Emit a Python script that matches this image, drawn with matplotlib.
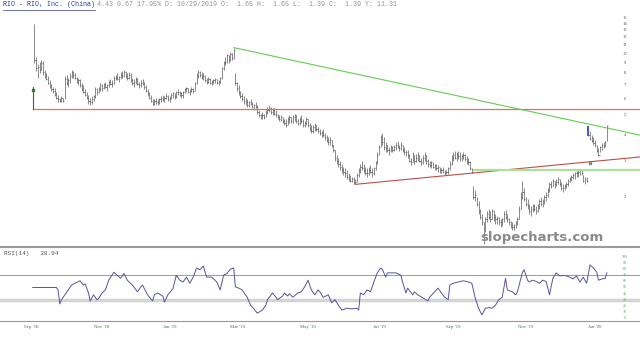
import numpy as np
import pandas as pd
import matplotlib
matplotlib.use('Agg')
import matplotlib.pyplot as plt
import matplotlib.transforms as mtransforms
from matplotlib.lines import Line2D

# trading calendar (NYSE holidays in range)
holidays = ['2018-11-22', '2018-12-05', '2018-12-25', '2019-01-01', '2019-01-21',
            '2019-02-18', '2019-04-19', '2019-05-27', '2019-07-04', '2019-09-02',
            '2019-11-28', '2019-12-25', '2020-01-01']
days = pd.bdate_range('2018-09-04', '2020-01-13', freq='C', holidays=holidays)

# daily bars, Sep 6 2018 -> Jan 13 2020
highs = [
    13.9, 9.6, 8.9, 9.1, 9.3, 9.2, 8.3, 8.0, 7.8, 7.4,
    7.1, 6.9, 6.8, 6.5, 6.3, 6.1, 6.2, 6.1, 7.8, 7.9,
    7.6, 8.0, 8.3, 8.2, 8.0, 7.7, 7.6, 7.5, 7.2, 7.0,
    6.7, 6.5, 6.3, 6.1, 6.2, 6.3, 6.9, 6.8, 6.9, 7.2,
    7.1, 7.2, 7.3, 7.1, 7.4, 7.5, 7.4, 7.8, 7.9, 8.0,
    7.8, 8.1, 8.2, 8.3, 8.2, 8.0, 8.1, 8.0, 7.6, 7.5,
    7.7, 7.6, 7.3, 7.4, 7.5, 7.3, 7.0, 6.7, 6.5, 6.3,
    6.0, 6.0, 6.1, 6.0, 6.1, 6.2, 6.3, 6.2, 6.4, 6.3,
    6.2, 6.4, 6.5, 6.4, 6.6, 6.7, 6.6, 6.5, 6.6, 6.8,
    6.9, 6.8, 6.7, 6.9, 6.8, 7.3, 8.0, 8.3, 8.2, 8.1,
    8.0, 7.9, 7.6, 7.7, 7.6, 7.4, 7.5, 7.6, 7.5, 7.4,
    7.7, 8.6, 9.2, 9.6, 10.0, 9.9, 10.2, 10.1, 10.7, 8.0,
    7.3, 7.0, 6.6, 6.4, 6.2, 6.1, 6.0, 5.9, 6.0, 5.8,
    5.7, 5.8, 5.6, 5.3, 5.1, 5.2, 5.1, 5.3, 5.5, 5.6,
    5.5, 5.4, 5.4, 5.3, 5.1, 5.0, 5.0, 4.9, 4.8, 4.8,
    4.9, 5.0, 4.9, 5.0, 5.1, 5.0, 4.8, 4.9, 5.0, 4.8,
    4.7, 4.9, 4.8, 4.6, 4.5, 4.5, 4.6, 4.5, 4.4, 4.3,
    4.2, 4.3, 4.1, 4.0, 3.9, 3.9, 3.8, 3.6, 3.4, 3.2,
    3.1, 3.0, 2.9, 2.8, 2.75, 2.7, 2.6, 2.55, 2.5, 2.5,
    2.45, 2.6, 2.75, 2.9, 3.0, 2.9, 2.8, 2.75, 2.8, 2.85,
    2.75, 2.8, 3.0, 3.3, 3.6, 4.0, 4.1, 3.9, 3.7, 3.6,
    3.5, 3.6, 3.55, 3.6, 3.7, 3.75, 3.6, 3.7, 3.6, 3.5,
    3.4, 3.4, 3.25, 3.1, 3.3, 3.2, 3.25, 3.3, 3.2, 3.1,
    3.2, 3.3, 3.2, 3.05, 3.0, 3.0, 2.95, 2.9, 2.9, 2.85,
    2.8, 2.75, 2.8, 2.7, 2.7, 2.8, 3.0, 3.2, 3.3, 3.35,
    3.3, 3.35, 3.3, 3.25, 3.3, 3.25, 3.15, 3.1, 3.0, 2.75,
    2.25, 2.15, 2.0, 1.9, 1.75, 1.65, 1.5, 1.6, 1.7, 1.75,
    1.7, 1.75, 1.72, 1.65, 1.62, 1.6, 1.55, 1.58, 1.7, 1.72,
    1.65, 1.58, 1.52, 1.5, 1.48, 1.52, 1.6, 1.8, 2.1, 2.4,
    2.2, 2.0, 1.95, 1.85, 1.8, 1.85, 1.85, 1.8, 1.85, 1.95,
    2.0, 1.95, 2.05, 2.1, 2.2, 2.35, 2.4, 2.45, 2.4, 2.45,
    2.5, 2.45, 2.35, 2.3, 2.3, 2.35, 2.45, 2.5, 2.55, 2.6,
    2.65, 2.68, 2.7, 2.72, 2.7, 2.55, 2.5, 2.5, 4.45, 4.2,
    4.0, 3.9, 3.8, 3.6, 3.45, 3.55, 3.65, 3.7, 3.75, 4.5,
]
lows = [
    9.0, 8.2, 7.6, 8.0, 8.3, 7.9, 7.6, 7.4, 7.1, 6.8,
    6.6, 6.4, 6.2, 6.0, 5.8, 5.8, 5.8, 5.8, 6.0, 7.0,
    6.9, 7.2, 7.6, 7.6, 7.5, 7.2, 7.0, 6.9, 6.6, 6.4,
    6.2, 6.0, 5.7, 5.6, 5.7, 5.9, 6.1, 6.3, 6.4, 6.6,
    6.6, 6.7, 6.8, 6.6, 6.9, 7.0, 6.9, 7.1, 7.4, 7.4,
    7.3, 7.5, 7.6, 7.7, 7.6, 7.4, 7.5, 7.3, 7.0, 6.9,
    7.1, 7.0, 6.8, 6.9, 7.0, 6.7, 6.5, 6.2, 6.0, 5.8,
    5.6, 5.6, 5.7, 5.6, 5.7, 5.8, 5.9, 5.8, 6.0, 5.9,
    5.8, 6.0, 6.1, 6.0, 6.1, 6.3, 6.2, 6.1, 6.1, 6.4,
    6.5, 6.4, 6.3, 6.5, 6.4, 6.6, 7.1, 7.6, 7.7, 7.5,
    7.4, 7.3, 7.1, 7.2, 7.1, 7.0, 7.1, 7.2, 7.1, 7.0,
    7.2, 7.5, 8.3, 8.8, 9.0, 9.0, 9.2, 9.3, 9.4, 7.0,
    6.6, 6.3, 6.1, 5.9, 5.7, 5.6, 5.5, 5.5, 5.6, 5.4,
    5.3, 5.4, 5.1, 4.9, 4.8, 4.8, 4.8, 4.9, 5.1, 5.2,
    5.1, 5.0, 5.0, 4.9, 4.8, 4.7, 4.7, 4.6, 4.5, 4.4,
    4.5, 4.6, 4.6, 4.6, 4.7, 4.6, 4.5, 4.5, 4.6, 4.4,
    4.4, 4.5, 4.4, 4.2, 4.1, 4.1, 4.2, 4.2, 4.1, 4.0,
    3.9, 3.9, 3.8, 3.7, 3.6, 3.6, 3.5, 3.3, 3.0, 2.9,
    2.8, 2.7, 2.6, 2.55, 2.5, 2.45, 2.4, 2.35, 2.35, 2.3,
    2.3, 2.35, 2.5, 2.6, 2.7, 2.6, 2.55, 2.5, 2.55, 2.6,
    2.5, 2.55, 2.7, 2.9, 3.2, 3.5, 3.6, 3.4, 3.3, 3.3,
    3.2, 3.3, 3.3, 3.35, 3.4, 3.45, 3.35, 3.4, 3.3, 3.2,
    3.15, 3.1, 2.95, 2.85, 2.95, 2.9, 2.95, 3.0, 2.95, 2.85,
    2.9, 3.0, 2.9, 2.8, 2.8, 2.75, 2.75, 2.7, 2.7, 2.65,
    2.6, 2.6, 2.6, 2.55, 2.57, 2.58, 2.7, 2.85, 3.0, 3.05,
    3.0, 3.05, 3.0, 3.0, 3.05, 3.0, 2.9, 2.85, 2.7, 2.6,
    1.95, 1.9, 1.8, 1.65, 1.55, 1.45, 1.18, 1.35, 1.5, 1.55,
    1.5, 1.55, 1.52, 1.48, 1.48, 1.45, 1.42, 1.44, 1.5, 1.55,
    1.5, 1.45, 1.4, 1.38, 1.38, 1.4, 1.45, 1.55, 1.75, 1.95,
    1.9, 1.8, 1.75, 1.65, 1.62, 1.68, 1.7, 1.65, 1.68, 1.75,
    1.8, 1.78, 1.85, 1.9, 2.0, 2.1, 2.2, 2.25, 2.2, 2.25,
    2.3, 2.25, 2.15, 2.12, 2.15, 2.2, 2.25, 2.35, 2.4, 2.45,
    2.45, 2.5, 2.5, 2.55, 2.55, 2.35, 2.3, 2.35, 3.95, 3.8,
    3.7, 3.6, 3.5, 3.3, 3.15, 3.3, 3.4, 3.45, 3.5, 3.75,
]
closes = [
    9.3, 8.5, 8.6, 8.3, 9.0, 8.1, 7.8, 7.5, 7.2, 7.0,
    6.7, 6.6, 6.3, 6.1, 6.0, 5.9, 6.1, 5.9, 7.5, 7.2,
    7.4, 7.8, 8.1, 7.9, 7.6, 7.3, 7.4, 7.0, 6.8, 6.5,
    6.3, 6.1, 5.9, 5.8, 6.0, 6.2, 6.7, 6.5, 6.8, 7.0,
    6.8, 7.1, 6.9, 7.0, 7.3, 7.1, 7.2, 7.6, 7.7, 7.5,
    7.7, 7.9, 7.8, 8.1, 7.8, 7.6, 7.9, 7.4, 7.2, 7.3,
    7.5, 7.1, 7.0, 7.2, 7.3, 6.9, 6.6, 6.4, 6.1, 5.9,
    5.7, 5.9, 5.8, 5.8, 6.0, 6.1, 6.0, 6.1, 6.2, 6.0,
    6.1, 6.3, 6.4, 6.2, 6.5, 6.5, 6.4, 6.3, 6.5, 6.7,
    6.8, 6.5, 6.6, 6.7, 6.6, 7.2, 7.8, 8.1, 7.9, 7.7,
    7.8, 7.4, 7.3, 7.5, 7.2, 7.3, 7.4, 7.5, 7.2, 7.3,
    7.6, 8.5, 9.0, 9.1, 9.8, 9.3, 10.0, 9.5, 10.4, 7.2,
    6.8, 6.5, 6.2, 6.0, 5.9, 5.8, 5.6, 5.8, 5.7, 5.5,
    5.6, 5.5, 5.2, 5.0, 5.0, 5.0, 4.9, 5.2, 5.3, 5.4,
    5.2, 5.3, 5.1, 5.0, 4.9, 4.8, 4.9, 4.7, 4.6, 4.5,
    4.8, 4.9, 4.7, 4.9, 5.0, 4.7, 4.6, 4.8, 4.7, 4.5,
    4.6, 4.8, 4.5, 4.3, 4.2, 4.4, 4.5, 4.3, 4.2, 4.1,
    4.1, 4.0, 3.9, 3.8, 3.7, 3.8, 3.6, 3.4, 3.1, 3.0,
    2.9, 2.8, 2.7, 2.65, 2.6, 2.5, 2.45, 2.4, 2.45, 2.35,
    2.35, 2.55, 2.7, 2.8, 2.75, 2.7, 2.6, 2.6, 2.7, 2.65,
    2.6, 2.75, 2.95, 3.2, 3.5, 3.9, 3.7, 3.5, 3.6, 3.4,
    3.4, 3.5, 3.4, 3.5, 3.6, 3.5, 3.45, 3.6, 3.4, 3.3,
    3.3, 3.2, 3.0, 2.95, 3.2, 3.0, 3.1, 3.2, 3.0, 2.95,
    3.1, 3.2, 3.0, 2.9, 2.85, 2.95, 2.8, 2.85, 2.75, 2.8,
    2.7, 2.7, 2.65, 2.6, 2.65, 2.75, 2.9, 3.1, 3.2, 3.1,
    3.2, 3.15, 3.1, 3.15, 3.2, 3.05, 3.0, 2.95, 2.75, 2.65,
    2.0, 2.05, 1.85, 1.7, 1.6, 1.5, 1.3, 1.55, 1.65, 1.6,
    1.55, 1.7, 1.6, 1.55, 1.58, 1.5, 1.5, 1.55, 1.65, 1.6,
    1.55, 1.5, 1.45, 1.42, 1.45, 1.5, 1.55, 1.75, 2.0, 2.1,
    1.95, 1.85, 1.8, 1.7, 1.75, 1.8, 1.75, 1.7, 1.8, 1.9,
    1.85, 1.9, 2.0, 2.05, 2.15, 2.3, 2.25, 2.4, 2.3, 2.35,
    2.45, 2.3, 2.2, 2.2, 2.25, 2.3, 2.4, 2.45, 2.5, 2.55,
    2.6, 2.6, 2.65, 2.7, 2.6, 2.4, 2.45, 2.4, 4.0, 3.85,
    3.75, 3.65, 3.6, 3.35, 3.2, 3.5, 3.6, 3.55, 3.7, 4.43,
]

# RSI(14) read at bar positions (index into trading calendar)
rsi_x = [1, 15, 16, 17, 18, 20, 24, 26, 29, 31, 32, 34, 35, 37, 39, 40, 42, 44, 46, 49,
         51, 53, 55, 57, 60, 63, 65, 66, 69, 71, 72, 73, 75, 78, 79, 81, 84, 86, 88, 90,
         92, 94, 96, 98, 100, 102, 104, 107, 110, 112, 114, 116, 118, 120, 121, 123, 125, 128, 130, 131,
         134, 137, 139, 140, 143, 145, 146, 149, 150, 152, 153, 155, 158, 160, 162, 164, 166, 168, 170, 171,
         173, 176, 178, 180, 182, 184, 187, 190, 193, 194, 195, 197, 199, 201, 203, 205, 207, 208, 210, 211,
         213, 216, 219, 220, 222, 223, 226, 227, 229, 232, 235, 236, 239, 241, 243, 245, 247, 248, 250, 253,
         256, 259, 261, 263, 265, 267, 269, 271, 273, 275, 277, 279, 281, 282, 285, 287, 288, 291, 292, 294,
         295, 297, 299, 301, 303, 305, 307, 309, 311, 313, 316, 319, 321, 323, 325, 327, 329, 331, 333, 335,
         336, 338, 340, 341]
rsi_vals = [50, 50, 46, 23, 30, 38, 54, 57, 61, 54, 56, 41, 28, 38, 30, 32, 41, 46, 62, 75,
            70, 65, 73, 62, 54, 43, 51, 54, 38, 31, 28, 38, 41, 36, 26, 38, 48, 70, 62, 59,
            67, 57, 67, 82, 79, 85, 67, 67, 59, 46, 70, 73, 80, 82, 51, 49, 46, 34, 21, 18,
            8, 13, 21, 30, 41, 34, 30, 36, 41, 36, 40, 34, 41, 43, 51, 62, 46, 38, 46, 43,
            34, 38, 25, 30, 21, 13, 16, 15, 16, 13, 41, 38, 46, 43, 59, 74, 82, 80, 67, 74,
            74, 74, 70, 59, 41, 49, 38, 43, 38, 33, 28, 34, 43, 49, 41, 34, 30, 54, 57, 59,
            61, 59, 57, 33, 16, 5, 16, 17, 16, 21, 30, 34, 65, 46, 43, 38, 43, 75, 79, 62,
            59, 62, 60, 57, 62, 60, 38, 65, 74, 69, 70, 67, 64, 69, 59, 67, 57, 87, 82, 75,
            62, 64, 65, 74]

price_ticks = [2, 3, 4, 5, 6, 7, 8, 9, 10, 11, 12, 13, 14, 15]
rsi_ticks = [0, 10, 20, 30, 40, 50, 60, 70, 80, 90, 100]

# drawn studies: (x, price) anchors
support_level = 5.36
support_anchor_top = 6.87
green_dot = 6.64
down_trend = ([120, 360.6], [10.7, 4.0])
up_trend = ([192, 360.6], [2.3, 3.13])
breakdown_level = 2.70
highlight = 330
marker_x, marker_y = 331, 2.93

xs = np.arange(len(days) - len(closes), len(days))
xmax = 360.6

fig = plt.figure(figsize=(6.4, 3.37), dpi=100)
ax = fig.add_axes([0, 0.271, 1, 0.693])
ax2 = fig.add_axes([0, 0.0484, 1, 0.2196])

# price pane
ax.set_yscale('log')
ax.set_xlim(-18.4, xmax)
ax.set_ylim(1.154, 15.95)
ax.set_yticks([])
ax.set_yticks([], minor=True)
ax.set_xticks([])
for s in ['top', 'left', 'right']:
    ax.spines[s].set_visible(False)
ax.spines['bottom'].set_color('#9a9a9a')
ax.spines['bottom'].set_linewidth(0.8)

ax.vlines(xs, lows, highs, color='#484848', lw=0.45)
ax.hlines(closes, xs, xs + 0.7, color='#484848', lw=0.45)
hi = list(xs).index(highlight)
ax.vlines(highlight, lows[hi], highs[hi], color='#4455cc', lw=1.4)

ax.plot([1, xmax], [support_level, support_level], color='#e0705f', lw=0.9)
ax.plot([1, 1], [support_level, support_anchor_top], color='#555555', lw=0.8)
ax.plot(1, green_dot, 's', ms=1.8, color='#2a7a2a')
ax.plot(down_trend[0], down_trend[1], color='#66cc55', lw=0.8)
ax.plot(up_trend[0], up_trend[1], color='#b85048', lw=0.8)
ax.plot([262.5, xmax], [breakdown_level, breakdown_level], color='#ace09c', lw=1.6)
ax.plot(marker_x, marker_y, 's', ms=1.8, color='#888888')

trans = mtransforms.blended_transform_factory(ax.transAxes, ax.transData)
for v in price_ticks:
    ax.text(625 / 640, v, str(v), transform=trans, fontsize=3.3, color='#555555',
            ha='center', va='center', family='Liberation Serif')

# RSI pane
ax2.set_xlim(-18.4, xmax)
ax2.set_ylim(-4.4, 116.9)
ax2.set_yticks([])
for s in ['left', 'right']:
    ax2.spines[s].set_visible(False)
for s in ['top', 'bottom']:
    ax2.spines[s].set_color('#9a9a9a')
    ax2.spines[s].set_linewidth(0.8)
ax2.axhline(70, color='#9a9a9a', lw=0.7)
ax2.axhline(30, color='#d4d4d4', lw=2.5)
ax2.plot(rsi_x, rsi_vals, color='#55559a', lw=0.7)

trans2 = mtransforms.blended_transform_factory(ax2.transAxes, ax2.transData)
for v in rsi_ticks:
    ax2.text(625 / 640, v, str(v), transform=trans2, fontsize=2.8, color='#5aa05a',
             ha='center', va='center', family='Liberation Serif')

month_starts = [i for i in range(len(days)) if i == 0 or days[i].month != days[i - 1].month]
ticks = [i for i in month_starts if days[i].month % 2 == 1]
ax2.set_xticks(ticks)
ax2.set_xticklabels([days[i].strftime("%b '%y") for i in ticks], family='Liberation Serif')
ax2.tick_params(axis='x', length=0, pad=3, labelsize=3.5, labelcolor='#3d7a3d')

# header texts
fig.text(3 / 640, 1 - 5 / 337, 'RIO - RIO, Inc. (China)', family='Liberation Mono',
         fontsize=4.8, color='#2b3b8c', va='center')
fig.add_artist(Line2D([3 / 640, 95 / 640], [1 - 9.5 / 337] * 2, color='#2b3b8c', lw=0.5))
fig.text(97 / 640, 1 - 5 / 337,
         '4.43 0.67 17.95% D: 10/29/2019 O:  1.65 H:  1.65 L:  1.39 C:  1.39 Y: 11.31',
         family='Liberation Mono', fontsize=4.8, color='#8a9a8a', va='center')
fig.text(4 / 640, 1 - 253 / 337, 'RSI(14)   38.94', family='Liberation Mono',
         fontsize=4.3, color='#555555', va='center')
fig.text(542 / 640, 1 - 237 / 337, 'slopecharts.com', fontsize=9.5, fontweight='bold',
         color='#8a8a8a', ha='center', va='center', family='DejaVu Sans')

fig.savefig('out.png', dpi=100)
